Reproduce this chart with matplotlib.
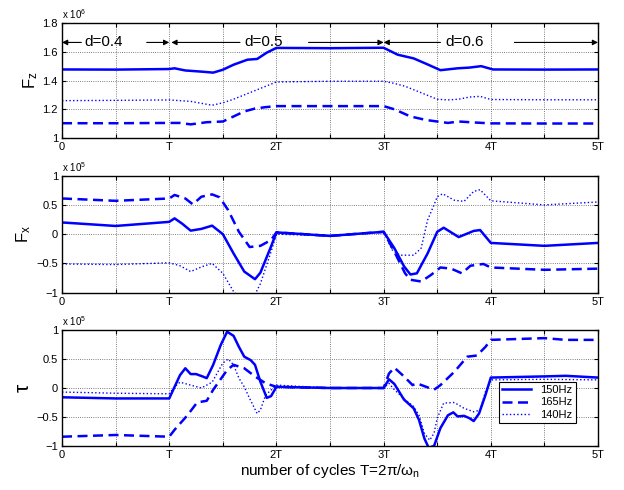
import matplotlib
matplotlib.use("Agg")
import matplotlib.pyplot as plt

plt.rcParams["font.family"] = ["Liberation Sans", "DejaVu Sans"]
plt.rcParams["mathtext.fontset"] = "custom"
plt.rcParams["mathtext.rm"] = "Liberation Sans"
plt.rcParams["mathtext.it"] = "Liberation Sans"
plt.rcParams["mathtext.bf"] = "Liberation Sans:bold"

# ---- Fz (x 1e6) ----
fz150_t = [0, 0.5, 1.0, 1.05, 1.15, 1.3, 1.41, 1.5, 1.6, 1.73, 1.82, 1.91, 2.0, 2.5, 3.0,
           3.13, 3.28, 3.41, 3.53, 3.69, 3.8, 3.91, 4.02, 4.5, 5.0]
fz150 = [1.477, 1.476, 1.48, 1.485, 1.47, 1.462, 1.455, 1.475, 1.51, 1.545, 1.55, 1.594, 1.627, 1.625, 1.628,
         1.58, 1.554, 1.512, 1.472, 1.485, 1.49, 1.5, 1.477, 1.476, 1.477]
fz165_t = [0, 0.5, 1.0, 1.1, 1.2, 1.35, 1.5, 1.6, 1.7, 1.8, 1.9, 2.0, 2.5, 3.0,
           3.1, 3.25, 3.4, 3.5, 3.6, 3.7, 3.85, 4.0, 4.5, 5.0]
fz165 = [1.103, 1.103, 1.105, 1.105, 1.095, 1.11, 1.115, 1.15, 1.185, 1.205, 1.215, 1.222, 1.222, 1.222,
         1.2, 1.15, 1.125, 1.115, 1.105, 1.115, 1.108, 1.102, 1.101, 1.101]
fz140_t = [0, 0.5, 1.0, 1.2, 1.4, 1.5, 1.6, 1.7, 1.8, 1.9, 2.0, 2.5, 3.0,
           3.1, 3.2, 3.3, 3.4, 3.5, 3.6, 3.7, 3.8, 3.9, 4.0, 4.5, 5.0]
fz140 = [1.26, 1.262, 1.265, 1.255, 1.228, 1.245, 1.27, 1.3, 1.33, 1.36, 1.39, 1.395, 1.395,
         1.38, 1.36, 1.33, 1.3, 1.27, 1.265, 1.27, 1.285, 1.29, 1.268, 1.266, 1.266]

# ---- Fx (x 1e5) ----
fx150_t = [0, 0.5, 1.0, 1.05, 1.12, 1.2, 1.3, 1.4, 1.5, 1.6, 1.7, 1.8, 1.85, 1.95, 2.0, 2.5, 3.0,
           3.1, 3.19, 3.25, 3.31, 3.41, 3.5, 3.56, 3.7, 3.84, 3.9, 4.0, 4.5, 5.0]
fx150 = [0.2, 0.14, 0.21, 0.27, 0.18, 0.06, 0.09, 0.145, 0.0, -0.33, -0.64, -0.77, -0.66, -0.21, 0.03, -0.03, 0.04,
         -0.24, -0.55, -0.69, -0.67, -0.33, 0.04, 0.11, -0.05, 0.055, 0.07, -0.15, -0.2, -0.15]
fx165_t = [0, 0.5, 1.0, 1.05, 1.15, 1.22, 1.3, 1.4, 1.47, 1.55, 1.65, 1.75, 1.85, 1.95, 2.0, 2.5, 3.0,
           3.1, 3.2, 3.25, 3.35, 3.44, 3.53, 3.63, 3.73, 3.81, 3.93, 4.0, 4.5, 5.0]
fx165 = [0.61, 0.57, 0.61, 0.67, 0.61, 0.51, 0.64, 0.68, 0.63, 0.41, 0.04, -0.22, -0.2, -0.1, 0.03, -0.03, 0.04,
         -0.3, -0.67, -0.78, -0.81, -0.7, -0.57, -0.59, -0.67, -0.54, -0.51, -0.57, -0.61, -0.59]
fx140_t = [0, 0.5, 1.0, 1.1, 1.2, 1.3, 1.4, 1.5, 1.6, 1.7, 1.78, 1.85, 1.95, 2.0, 2.5, 3.0,
           3.08, 3.15, 3.28, 3.35, 3.41, 3.47, 3.5, 3.55, 3.66, 3.75, 3.84, 3.9, 4.0, 4.5, 5.0]
fx140 = [-0.51, -0.52, -0.49, -0.54, -0.64, -0.56, -0.5, -0.67, -0.98, -1.15, -1.1, -0.85, -0.3, 0.0, -0.03, 0.04,
         -0.27, -0.36, -0.36, -0.24, 0.24, 0.5, 0.64, 0.69, 0.58, 0.56, 0.73, 0.76, 0.57, 0.5, 0.55]

# ---- tau (x 1e5) ----
tq150_t = [0, 0.5, 1.0, 1.05, 1.1, 1.15, 1.2, 1.25, 1.31, 1.35, 1.41, 1.48, 1.54, 1.6, 1.65, 1.7, 1.76, 1.8,
           1.85, 1.91, 1.95, 2.0, 2.5, 3.0, 3.05, 3.1, 3.19, 3.28, 3.33, 3.38, 3.42, 3.47, 3.53, 3.6, 3.65,
           3.69, 3.75, 3.8, 3.84, 3.89, 3.95, 4.0, 4.5, 4.7, 5.0]
tq150 = [-0.16, -0.18, -0.18, 0.02, 0.22, 0.34, 0.24, 0.24, 0.2, 0.17, 0.4, 0.74, 0.97, 0.9, 0.71, 0.54, 0.48, 0.4,
         0.11, -0.17, -0.14, 0.02, 0.0, 0.0, 0.15, 0.07, -0.2, -0.35, -0.55, -0.87, -1.03, -1.0, -0.69, -0.47, -0.42,
         -0.49, -0.48, -0.52, -0.57, -0.44, -0.12, 0.18, 0.2, 0.21, 0.18]
tq165_t = [0, 0.5, 1.0, 1.05, 1.17, 1.26, 1.35, 1.41, 1.54, 1.6, 1.7, 1.8, 1.9, 2.0, 2.5, 3.0,
           3.05, 3.1, 3.19, 3.27, 3.31, 3.47, 3.53, 3.66, 3.78, 3.87, 3.95, 4.0, 4.5, 4.7, 5.0]
tq165 = [-0.84, -0.81, -0.84, -0.72, -0.47, -0.25, -0.22, -0.03, 0.31, 0.4, 0.34, 0.2, 0.08, 0.02, 0.0, 0.0,
         0.25, 0.35, 0.2, 0.05, 0.08, -0.03, 0.05, 0.28, 0.54, 0.56, 0.71, 0.83, 0.86, 0.83, 0.83]
tq140_t = [0, 0.5, 1.0, 1.05, 1.1, 1.2, 1.3, 1.4, 1.5, 1.55, 1.6, 1.65, 1.7, 1.75, 1.82, 1.85, 1.9, 2.0, 2.5, 3.0,
           3.05, 3.1, 3.2, 3.28, 3.33, 3.38, 3.43, 3.47, 3.5, 3.56, 3.66, 3.75, 3.84, 3.9, 3.95, 4.0, 4.5, 5.0]
tq140 = [-0.07, -0.09, -0.1, 0.02, 0.1, 0.05, 0.0, 0.1, 0.43, 0.5, 0.4, 0.17, 0.02, -0.18, -0.44, -0.38, -0.12, 0.05, 0.0, 0.0,
         0.08, -0.03, -0.2, -0.32, -0.47, -0.78, -0.9, -0.78, -0.52, -0.26, -0.25, -0.35, -0.41, -0.38, -0.06, 0.14, 0.15, 0.14]

xticks = [0, 0.5, 1, 1.5, 2, 2.5, 3, 3.5, 4, 4.5, 5]
xticklabels = ["0", "", "T", "", "2T", "", "3T", "", "4T", "", "5T"]
labels = ["150Hz", "165Hz", "140Hz"]

blue = "#0000ff"
fig = plt.figure(figsize=(6.24, 4.9), dpi=100)
ax1 = fig.add_axes([0.0994, 0.7183, 0.859, 0.2347])
ax2 = fig.add_axes([0.0994, 0.4028, 0.859, 0.2387])
ax3 = fig.add_axes([0.0994, 0.0898, 0.859, 0.2367])

panels = [
    (ax1, [(fz150_t, fz150), (fz165_t, fz165), (fz140_t, fz140)], (1.0, 1.8),
     [1, 1.2, 1.4, 1.6, 1.8], ["1", "1.2", "1.4", "1.6", "1.8"], r"F$_z$", r"x 10$^6$", 12),
    (ax2, [(fx150_t, fx150), (fx165_t, fx165), (fx140_t, fx140)], (-1, 1),
     [-1, -0.5, 0, 0.5, 1], ["\u22121", "\u22120.5", "0", "0.5", "1"], r"F$_x$", r"x 10$^5$", 12),
    (ax3, [(tq150_t, tq150), (tq165_t, tq165), (tq140_t, tq140)], (-1, 1),
     [-1, -0.5, 0, 0.5, 1], ["\u22121", "\u22120.5", "0", "0.5", "1"], r"$\tau$", r"x 10$^5$", 15),
]

styles = [dict(ls="-", lw=1.8), dict(ls="--", lw=1.8, dashes=(4, 2.2)), dict(ls=":", lw=1.0)]

for ax, series, ylim, yt, ytl, ylab, mult, lsize in panels:
    for (t, v), st, lab in zip(series, styles, labels):
        ax.plot(t, v, color=blue, label=lab, **st)
    ax.set_xlim(0, 5)
    ax.set_ylim(*ylim)
    ax.set_xticks(xticks)
    ax.set_xticklabels(xticklabels, fontsize=8)
    ax.set_yticks(yt)
    ax.set_yticklabels(ytl, fontsize=8)
    ax.tick_params(direction="in", top=True, right=True, length=3, width=0.8, pad=3)
    ax.grid(True, ls=":", color="#555555", lw=0.6)
    for sp in ax.spines.values():
        sp.set_linewidth(1.0)
    ax.set_ylabel(ylab, fontsize=lsize, labelpad=2)
    ax.text(0.0, 1.015, mult, transform=ax.transAxes, fontsize=7, va="bottom", ha="left")

# d annotations on the Fz panel
arrow_y = 1.665
arrows = [(0.0, 0.18), (1.0, 0.79), (1.02, 1.66), (3.0, 2.3), (3.0, 3.53), (5.0, 4.22)]
for head, tail in arrows:
    ax1.annotate("", xy=(head, arrow_y), xytext=(tail, arrow_y),
                 arrowprops=dict(arrowstyle="-|>", color="black", lw=0.8,
                                 shrinkA=0, shrinkB=0, mutation_scale=8))
d_labels = ["d=0.4", "d=0.5", "d=0.6"]
d_pos = [0.39, 1.88, 3.76]
for lab, xp in zip(d_labels, d_pos):
    ax1.text(xp, arrow_y, lab, fontsize=11, ha="center", va="center")

leg = ax3.legend(loc="lower left", bbox_to_anchor=(0.805, 0.15), fontsize=8,
                 frameon=True, fancybox=False, edgecolor="black", framealpha=1,
                 handlelength=2.6, borderpad=0.3, labelspacing=0.2, handletextpad=0.8)
leg.get_frame().set_linewidth(0.8)

ax3.set_xlabel(r"number of cycles T=2$\pi$/$\omega_\mathrm{n}$", fontsize=11, labelpad=1)

fig.savefig("out.png", dpi=100)
